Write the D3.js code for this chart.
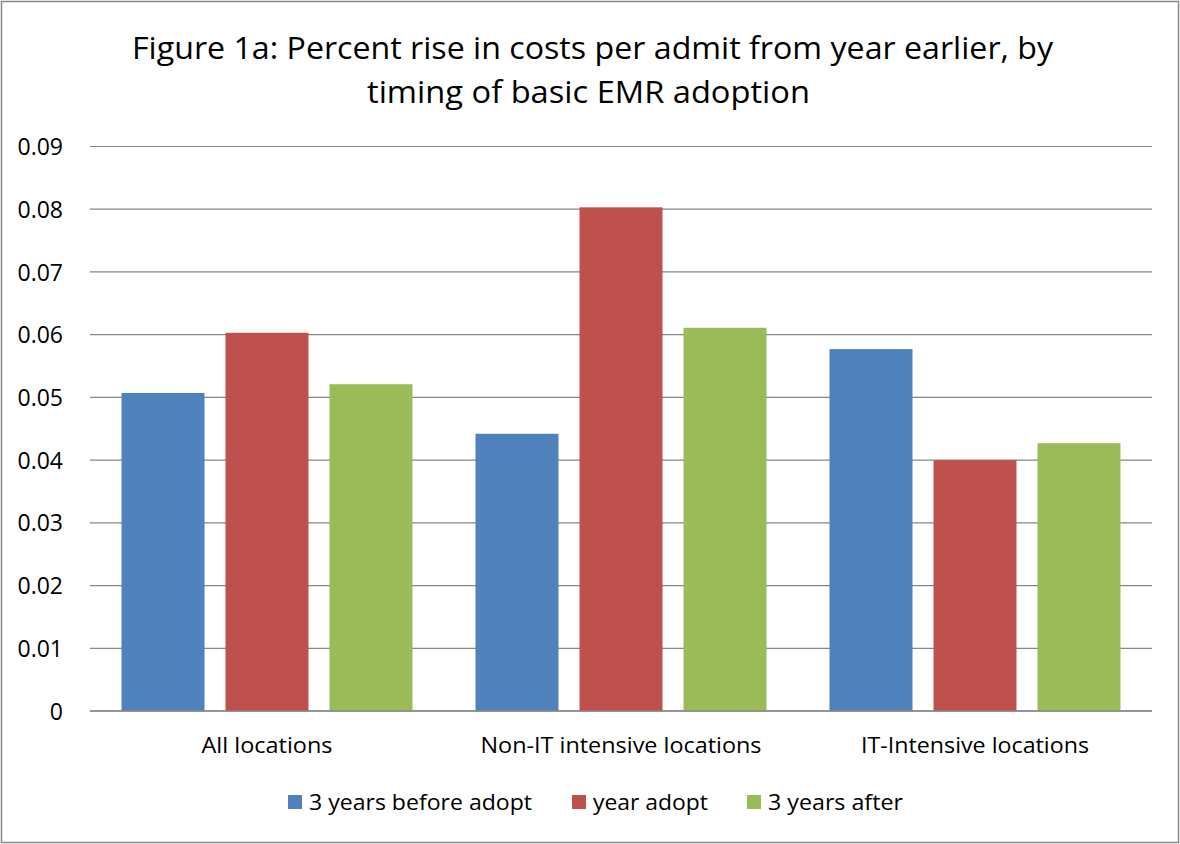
<!DOCTYPE html>
<html>
<head>
<meta charset="utf-8">
<script src="https://cdn.jsdelivr.net/npm/d3@7"></script>
<style>
  body { margin: 0; background: #fff; }
  text { font-family: "Open Sans", "Liberation Sans", sans-serif; fill: #000; }
</style>
</head>
<body>
<div id="chart"></div>
<script>
// chart size and plot box
width = 1180;
height = 844;
margin = ({top: 146.5, right: 28, bottom: 133, left: 90});

// data
let categories = ["All locations", "Non-IT intensive locations", "IT-Intensive locations"];
let seriesNames = ["3 years before adopt", "year adopt", "3 years after"];
let before = [0.0507, 0.0442, 0.0577];
let adopt = [0.0603, 0.0803, 0.0400];
let after = [0.0521, 0.0611, 0.0427];
let yTicks = [0, 0.01, 0.02, 0.03, 0.04, 0.05, 0.06, 0.07, 0.08, 0.09];
let colors = ["#4f81bd", "#c0504d", "#9bbb59"];

let series = [before, adopt, after];

let svg = d3.select("#chart").append("svg")
    .attr("width", width).attr("height", height);

// outer border
svg.append("rect")
    .attr("x", 1.5).attr("y", 1.5)
    .attr("width", width - 3).attr("height", height - 3)
    .attr("fill", "none").attr("stroke", "#888").attr("stroke-width", 1.5);

// scales
let xScale = d3.scaleBand()
    .domain(categories)
    .range([margin.left, width - margin.right])
    .padding(0);
let barScale = d3.scaleBand()
    .domain(d3.range(series.length))
    .range([31.5, xScale.bandwidth() - 31.5])
    .paddingInner(0.202);
let yScale = d3.scaleLinear()
    .domain([0, 0.09])
    .range([height - margin.bottom, margin.top]);

// gridlines
svg.append("g").selectAll("line").data(yTicks).enter().append("line")
    .attr("x1", margin.left).attr("x2", width - margin.right)
    .attr("y1", d => yScale(d)).attr("y2", d => yScale(d))
    .attr("stroke", "#868686").attr("stroke-width", 1.2);

// y axis labels
let yAxis = g => g
    .attr("transform", `translate(${margin.left},0)`)
    .call(d3.axisLeft(yScale).tickValues(yTicks).tickSize(0).tickPadding(27)
        .tickFormat(d => d === 0 ? "0" : d3.format(".2f")(d)))
    .call(g => g.select(".domain").remove())
    .call(g => g.selectAll("text").attr("font-size", 23).attr("dy", "0.35em"));
svg.append("g").attr("id", "y_axis").call(yAxis);

// bars
let groups = svg.append("g").selectAll("g").data(categories).enter().append("g")
    .attr("transform", d => `translate(${xScale(d)},0)`);
groups.selectAll("rect")
    .data((d, i) => series.map((s, j) => ({j: j, v: s[i]})))
    .enter().append("rect")
    .attr("x", d => barScale(d.j))
    .attr("width", barScale.bandwidth())
    .attr("y", d => yScale(d.v))
    .attr("height", d => yScale(0) - yScale(d.v))
    .attr("fill", d => colors[d.j]);

// baseline
svg.append("line")
    .attr("x1", margin.left).attr("x2", width - margin.right)
    .attr("y1", yScale(0)).attr("y2", yScale(0))
    .attr("stroke", "#868686").attr("stroke-width", 1.5);

// category labels
let catWidths = [131, 281, 228];
svg.append("g").selectAll("text").data(categories).enter().append("text")
    .attr("x", d => xScale(d) + xScale.bandwidth() / 2)
    .attr("y", 753)
    .attr("text-anchor", "middle")
    .attr("font-size", 22)
    .attr("textLength", (d, i) => catWidths[i])
    .attr("lengthAdjust", "spacingAndGlyphs")
    .text(d => d);

// title
let titleLines = ["Figure 1a: Percent rise in costs per admit from year earlier, by", "timing of basic EMR adoption"];
let titleX = [592.5, 588.5];
let titleWidths = [921, 443];
svg.append("g").selectAll("text").data(titleLines).enter().append("text")
    .attr("x", (d, i) => titleX[i])
    .attr("y", (d, i) => 59 + i * 44)
    .attr("text-anchor", "middle")
    .attr("font-size", 31)
    .attr("textLength", (d, i) => titleWidths[i])
    .attr("lengthAdjust", "spacingAndGlyphs")
    .text(d => d);

// legend
let legendX = [288, 572, 747];
let legendWidths = [223, 115, 135];
let legend = svg.append("g").selectAll("g").data(seriesNames).enter().append("g")
    .attr("transform", (d, i) => `translate(${legendX[i]},802)`);
legend.append("rect")
    .attr("x", 0).attr("y", -7).attr("width", 14).attr("height", 14)
    .attr("fill", (d, i) => colors[i]);
legend.append("text")
    .attr("x", 21).attr("y", 7.5)
    .attr("font-size", 22)
    .attr("textLength", (d, i) => legendWidths[i])
    .attr("lengthAdjust", "spacingAndGlyphs")
    .text(d => d);
</script>
</body>
</html>
